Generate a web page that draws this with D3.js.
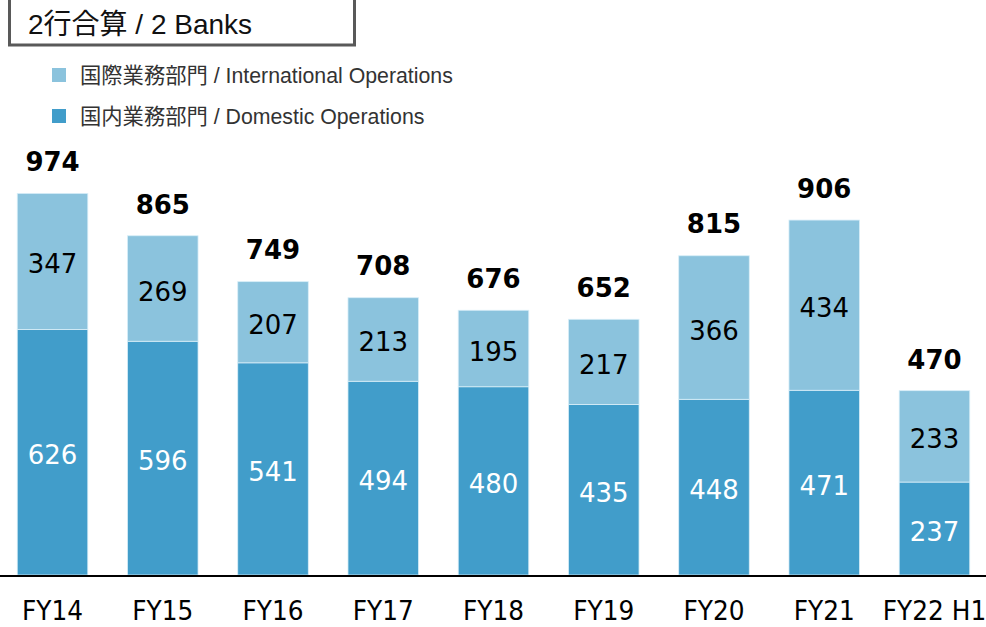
<!DOCTYPE html>
<html><head><meta charset="utf-8">
<script src="https://cdn.jsdelivr.net/npm/d3@7"></script>
<style>body{margin:0;background:#fff}svg{display:block}</style>
</head><body>
<script>
const categories = ["FY14","FY15","FY16","FY17","FY18","FY19","FY20","FY21","FY22 H1"];
const domestic = [626,596,541,494,480,435,448,471,237];
const international = [347,269,207,213,195,217,366,434,233];
const totals = [974,865,749,708,676,652,815,906,470];
const seriesNames = ["国際業務部門 / International Operations","国内業務部門 / Domestic Operations"];
const title = "2行合算 / 2 Banks";

const W=986,H=627;
const colIntl="#8BC3DD", colDom="#419DCA";
const svg=d3.select("body").append("svg").attr("width",W).attr("height",H);
const baseY=575;
const y=d3.scaleLinear().domain([0,974]).range([baseY,193]);
const x=d3.scaleBand().domain(categories).range([-2.6,989.6]).paddingInner(0.36).paddingOuter(0.18);

// title box
svg.append("rect").attr("x",9.5).attr("y",-2).attr("width",345).attr("height",47)
  .attr("fill","#fff").attr("stroke","#595959").attr("stroke-width",3);
svg.append("text").attr("x",28).attr("y",34).attr("font-family","Liberation Sans, Noto Sans CJK JP, sans-serif")
  .attr("font-size",28).attr("fill","#111").text(title);

// legend
const legCols=[colIntl,colDom];
seriesNames.forEach((n,i)=>{
  const ly=68+i*41;
  svg.append("rect").attr("x",52).attr("y",ly).attr("width",14).attr("height",14).attr("fill",legCols[i]);
  svg.append("text").attr("x",80).attr("y",ly+15).attr("font-family","Liberation Sans, Noto Sans CJK JP, sans-serif")
    .attr("font-size",21.3).attr("fill","#333").text(n);
});

const g=svg.append("g");
categories.forEach((c,i)=>{
  const x0=x(c), bw=x.bandwidth();
  const d=domestic[i], it=international[i];
  g.append("rect").attr("x",x0).attr("width",bw).attr("y",y(d)).attr("height",baseY-y(d))
    .attr("fill",colDom).attr("stroke","#d8eef8").attr("stroke-width",0.8);
  g.append("rect").attr("x",x0).attr("width",bw).attr("y",y(d+it)).attr("height",y(d)-y(d+it))
    .attr("fill",colIntl).attr("stroke","#d8eef8").attr("stroke-width",0.8);
  const cx=x0+bw/2;
  g.append("text").attr("x",cx).attr("y",(y(d)+baseY)/2+12).attr("text-anchor","middle")
    .attr("font-family","DejaVu Sans, sans-serif").attr("font-size",26).attr("fill","#fff").text(d);
  g.append("text").attr("x",cx).attr("y",(y(d)+y(d+it))/2+12).attr("text-anchor","middle")
    .attr("font-family","DejaVu Sans, sans-serif").attr("font-size",26).attr("fill","#000").text(it);
  g.append("text").attr("x",cx).attr("y",y(totals[i])-22).attr("text-anchor","middle")
    .attr("font-family","DejaVu Sans, sans-serif").attr("font-weight","bold").attr("font-size",26).attr("fill","#000").text(totals[i]);
});

// axis
const ax=svg.append("g").attr("transform",`translate(0,${baseY})`).call(d3.axisBottom(x).tickSize(0).tickPadding(26));
ax.select(".domain").remove();
svg.append("line").attr("x1",0).attr("x2",W).attr("y1",baseY+1).attr("y2",baseY+1).attr("stroke","#000").attr("stroke-width",2);
ax.selectAll("text").attr("font-family","DejaVu Sans, sans-serif").attr("font-size",27)
  .attr("fill","#000").attr("transform","scale(0.92,1)");
</script>
</body></html>
